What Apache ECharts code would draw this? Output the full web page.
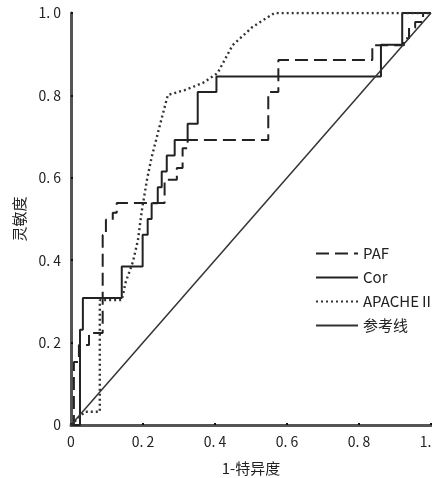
<!DOCTYPE html>
<html lang="zh">
<head>
	<meta charset="UTF-8">
	<title>ROC</title>
	<script src="https://cdn.jsdelivr.net/npm/echarts@6/dist/echarts.min.js"></script>
	<style>
		html, body { margin: 0; padding: 0; background: #fff; }
	</style>
</head>
<body>
	<div id="app" style="width: 432px;height:478px"></div>

	<script>
		// 各曲线的拐点 [1-特异度, 灵敏度]
		var tickLabels = ['0', '0. 2', '0. 4', '0. 6', '0. 8', '1. 0'];
		var legendNames = ['PAF', 'Cor', 'APACHEⅡ', '参考线'];

		var pafData = [
			[0, 0], [0.008, 0], [0.008, 0.153], [0.022, 0.153], [0.022, 0.194], [0.05, 0.194],
			[0.05, 0.223], [0.088, 0.223], [0.088, 0.461], [0.097, 0.461], [0.097, 0.498],
			[0.116, 0.498], [0.116, 0.515], [0.127, 0.515], [0.127, 0.539], [0.26, 0.539],
			[0.26, 0.595], [0.294, 0.595], [0.294, 0.624], [0.31, 0.624], [0.31, 0.672],
			[0.324, 0.672], [0.324, 0.692], [0.548, 0.692], [0.548, 0.808], [0.576, 0.808],
			[0.576, 0.886], [0.837, 0.886], [0.837, 0.922], [0.925, 0.922], [0.925, 0.939],
			[0.939, 0.939], [0.939, 0.964], [0.956, 0.964], [0.956, 0.978], [0.978, 0.978],
			[0.978, 1], [1, 1]
		];
		var corData = [
			[0, 0], [0.025, 0], [0.025, 0.231], [0.033, 0.231], [0.033, 0.308], [0.141, 0.308],
			[0.141, 0.385], [0.199, 0.385], [0.199, 0.462], [0.213, 0.462], [0.213, 0.5],
			[0.224, 0.5], [0.224, 0.538], [0.241, 0.538], [0.241, 0.577], [0.252, 0.577],
			[0.252, 0.615], [0.266, 0.615], [0.266, 0.654], [0.288, 0.654], [0.288, 0.692],
			[0.324, 0.692], [0.324, 0.731], [0.352, 0.731], [0.352, 0.808], [0.404, 0.808],
			[0.404, 0.846], [0.861, 0.846], [0.861, 0.923], [0.92, 0.923], [0.92, 1], [1, 1]
		];
		var apacheData = [
			[0, 0], [0.039, 0.032], [0.08, 0.032], [0.08, 0.303], [0.141, 0.303], [0.152, 0.347],
			[0.172, 0.396], [0.186, 0.449], [0.197, 0.522], [0.211, 0.595], [0.224, 0.65],
			[0.247, 0.728], [0.269, 0.801], [0.316, 0.813], [0.366, 0.83], [0.407, 0.854],
			[0.449, 0.922], [0.504, 0.966], [0.565, 1], [1, 1]
		];
		var refData = [[0, 0], [1, 1]];

		var myChart = echarts.init(document.getElementById('app'));
		var labelFont = {
			color: '#222',
			fontSize: 14,
			fontFamily: 'Noto Sans CJK SC',
			margin: 10,
			formatter: function (v) { return tickLabels[Math.round(v * 5)]; }
		};
		var axisCommon = {
			type: 'value',
			min: 0,
			max: 1,
			interval: 0.2,
			nameLocation: 'middle',
			nameTextStyle: { color: '#222', fontSize: 15, fontFamily: 'Noto Sans CJK SC' },
			axisLine: { show: true, lineStyle: { color: '#555', width: 3 } },
			axisTick: { show: true, inside: true, length: 2, lineStyle: { color: '#111', width: 2 } },
			splitLine: { show: false },
			axisLabel: labelFont
		};

		var option = {
			animation: false,
			grid: { left: 71, right: 1, top: 13, bottom: 53, outerBoundsMode: 'none' },
			legend: {
				data: legendNames,
				orient: 'vertical',
				left: 310,
				top: 241,
				itemWidth: 42,
				itemHeight: 14,
				itemGap: 9,
				itemStyle: { opacity: 0 },
				textStyle: { color: '#222', fontSize: 15, fontFamily: 'Noto Sans CJK SC' }
			},
			xAxis: Object.assign({}, axisCommon, { name: '1-特异度', nameGap: 36 }),
			yAxis: Object.assign({}, axisCommon, { name: '灵敏度', nameGap: 44 }),
			series: [
				{
					name: 'PAF', type: 'line', symbol: 'none', data: pafData, color: '#222',
					lineStyle: { color: '#222', width: 2, type: [13, 6] }
				},
				{
					name: 'Cor', type: 'line', symbol: 'none', data: corData, color: '#222',
					lineStyle: { color: '#222', width: 2, type: 'solid' }
				},
				{
					name: 'APACHEⅡ', type: 'line', symbol: 'none', data: apacheData, color: '#333',
					lineStyle: { color: '#333', width: 2.4, type: [2, 3] }
				},
				{
					name: '参考线', type: 'line', symbol: 'none', data: refData, color: '#333',
					lineStyle: { color: '#333', width: 1.5, type: 'solid' }
				}
			]
		};
		myChart.setOption(option);
	</script>
</body>
</html>
